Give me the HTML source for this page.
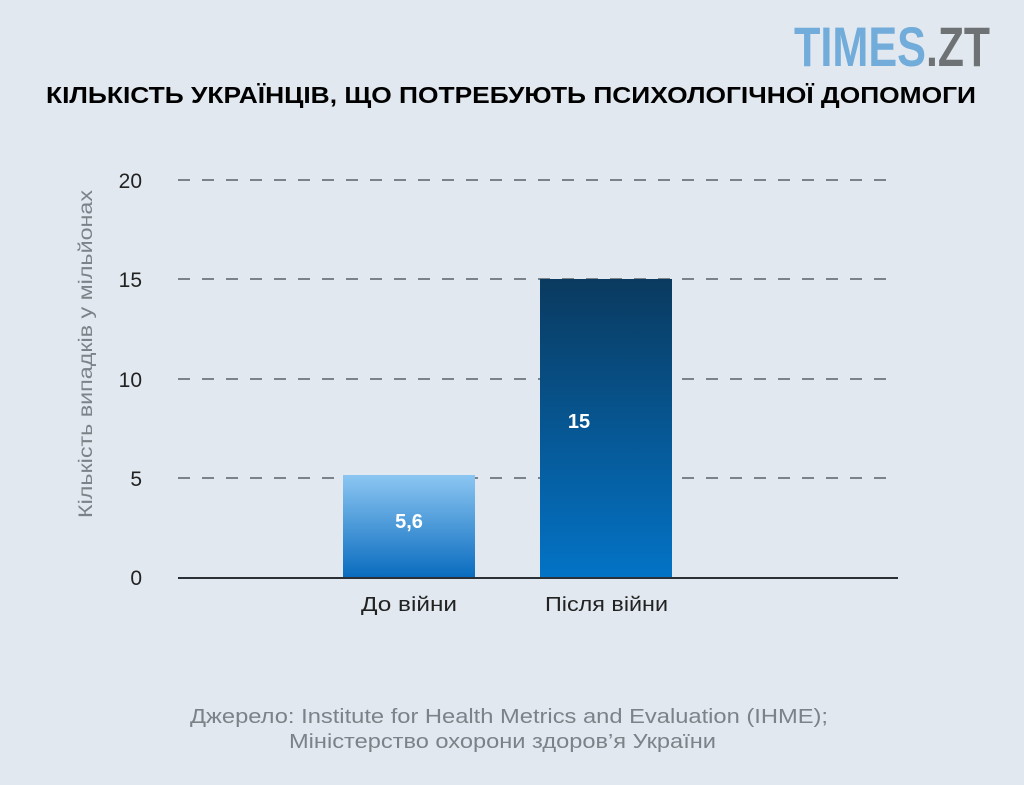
<!DOCTYPE html><html><head><meta charset="utf-8"><style>
body{margin:0;width:1024px;height:785px;background:#e1e8ef;overflow:hidden;font-family:"Liberation Sans",sans-serif}
</style></head><body>
<svg width="1024" height="785" xmlns="http://www.w3.org/2000/svg" style="position:absolute;left:0;top:0">
<defs>
<linearGradient id="g1" x1="0" y1="0" x2="0" y2="1"><stop offset="0" stop-color="#8cc6f2"/><stop offset="1" stop-color="#0a6cbf"/></linearGradient>
<linearGradient id="g2" x1="0" y1="0" x2="0" y2="1"><stop offset="0" stop-color="#0a3a5f"/><stop offset="1" stop-color="#0373c6"/></linearGradient>
</defs>
<text x="794" y="66" font-family="Liberation Sans" font-weight="bold" font-size="56" fill="#72acda" textLength="132" lengthAdjust="spacingAndGlyphs">TIMES</text>
<text x="926" y="66" font-family="Liberation Sans" font-weight="bold" font-size="56" fill="#6e7275" textLength="64" lengthAdjust="spacingAndGlyphs">.ZT</text>
<text x="46" y="103" font-weight="bold" font-size="23" fill="#000" textLength="930" lengthAdjust="spacingAndGlyphs">КІЛЬКІСТЬ УКРАЇНЦІВ, ЩО ПОТРЕБУЮТЬ ПСИХОЛОГІЧНОЇ ДОПОМОГИ</text>
<g stroke="#7b8388" stroke-width="2" stroke-dasharray="12,12">
<line x1="178" y1="180" x2="898" y2="180"/><line x1="178" y1="279" x2="898" y2="279"/><line x1="178" y1="379" x2="898" y2="379"/><line x1="178" y1="478" x2="898" y2="478"/>
</g>
<rect x="343" y="475" width="132" height="102" fill="url(#g1)"/>
<rect x="540" y="279" width="132" height="298" fill="url(#g2)"/>
<line x1="178" y1="578" x2="898" y2="578" stroke="#2b3036" stroke-width="2"/>
<g font-size="21" fill="#222" text-anchor="end">
<text x="142" y="188">20</text><text x="142" y="287">15</text><text x="142" y="387">10</text><text x="142" y="486">5</text><text x="142" y="585">0</text>
</g>
<text x="409" y="528" font-size="20" font-weight="bold" fill="#fff" text-anchor="middle">5,6</text>
<text x="579" y="428" font-size="20" font-weight="bold" fill="#fff" text-anchor="middle">15</text>
<text x="361" y="611" font-size="20" fill="#222" textLength="96" lengthAdjust="spacingAndGlyphs">До війни</text>
<text x="545" y="611" font-size="20" fill="#222" textLength="123" lengthAdjust="spacingAndGlyphs">Після війни</text>
<text transform="translate(92,518) rotate(-90)" font-size="19" fill="#7b8388" textLength="328" lengthAdjust="spacingAndGlyphs">Кількість випадків у мільйонах</text>
<text x="190" y="723" font-size="20" fill="#7b8388" textLength="638" lengthAdjust="spacingAndGlyphs">Джерело: Institute for Health Metrics and Evaluation (IHME);</text>
<text x="289" y="748" font-size="20" fill="#7b8388" textLength="427" lengthAdjust="spacingAndGlyphs">Міністерство охорони здоров’я України</text>
</svg>
</body></html>
